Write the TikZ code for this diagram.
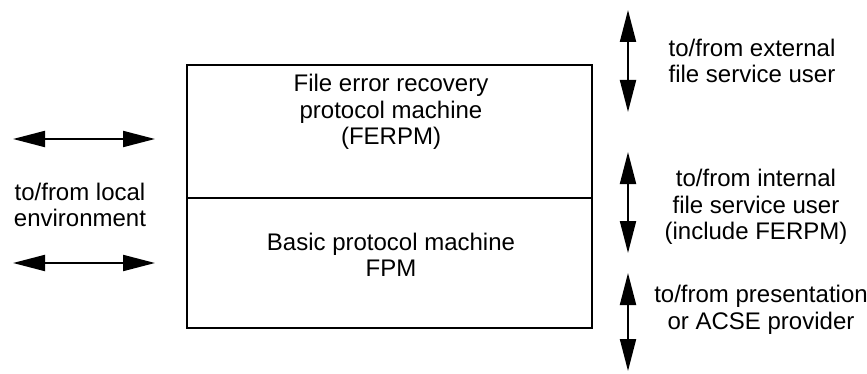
\documentclass[tikz,border=0pt]{standalone}
\usepackage{fontspec}
\setmainfont{Liberation Sans}
\usetikzlibrary{arrows.meta,positioning}

\begin{document}
\begin{tikzpicture}[x=0.5pt, y=-0.5pt,
  blk/.style={rectangle, draw, line width=1.3pt, minimum width=202.5pt,
              inner sep=0pt},
  txt/.style={align=center, inner sep=0pt,
              font=\fontsize{12}{13.25}\selectfont},
  arr/.style={{Triangle[length=16pt,width=8pt]}-{Triangle[length=16pt,width=8pt]},
              line width=1pt}
]
\useasboundingbox (0,0) rectangle (867,374);

% protocol machine boxes
\node[blk, minimum height=66.5pt] (ferpm) at (389.5,131.5) {};
\node[blk, minimum height=65pt]   (fpm)   at (389.5,263) {};

\node[txt] (ferpmtxt) at (391,112) {File error recovery\\protocol machine\\(FERPM)};
\node[txt] (fpmtxt)   at (391,255) {Basic protocol machine\\FPM};

% local environment
\coordinate (l1a) at (13,139);  \coordinate (l1b) at (155,139);
\coordinate (l2a) at (13,263);  \coordinate (l2b) at (155,263);
\draw[arr] (l1a) -- (l1b);
\draw[arr] (l2a) -- (l2b);
\node[txt] (local) at (80,205) {to/from local\\environment};

% service users and provider
\coordinate (r1a) at (628,10);   \coordinate (r1b) at (628,112);
\coordinate (r2a) at (628,152);  \coordinate (r2b) at (628,253);
\coordinate (r3a) at (628,273);  \coordinate (r3b) at (628,371);
\draw[arr] (r1a) -- (r1b);
\draw[arr] (r2a) -- (r2b);
\draw[arr] (r3a) -- (r3b);

\node[txt] (extuser) at (752,61)    {to/from external\\file service user};
\node[txt] (intuser) at (756,207)   {to/from internal\\file service user\\(include FERPM)};
\node[txt] (acse)    at (761,310)   {to/from presentation\\or ACSE provider};
\end{tikzpicture}
\end{document}
